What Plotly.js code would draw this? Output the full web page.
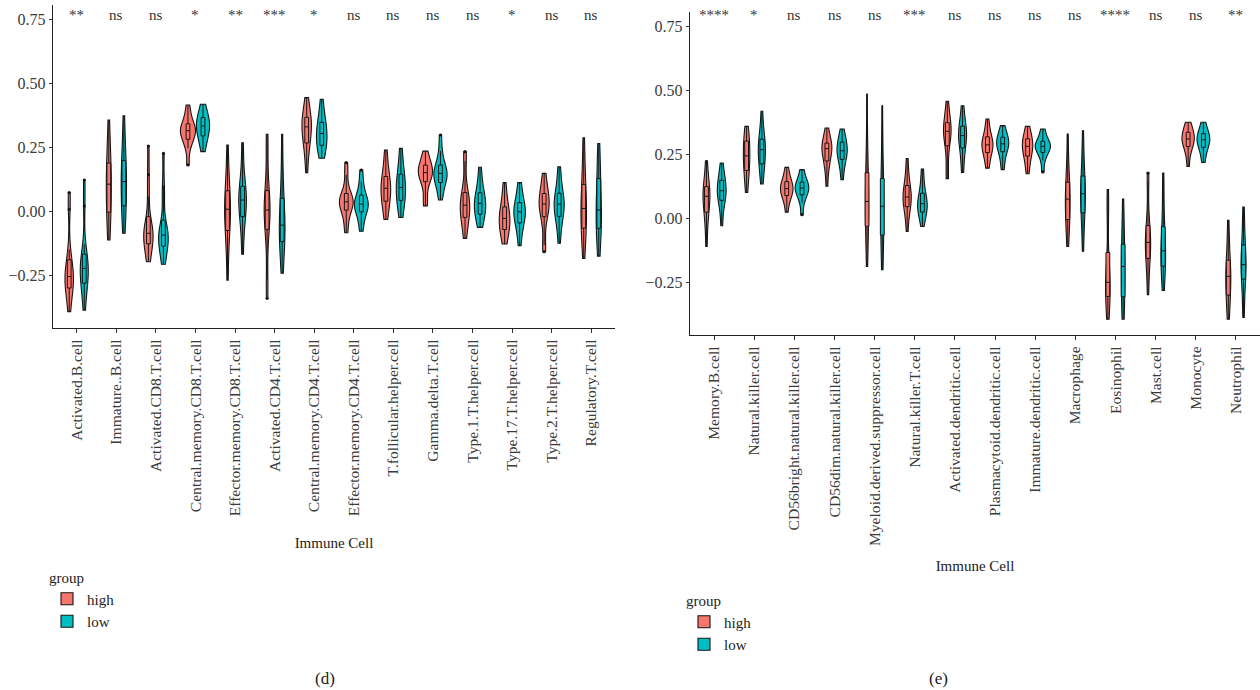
<!DOCTYPE html>
<html><head><meta charset="utf-8">
<script src="https://cdn.plot.ly/plotly-3.0.1.min.js"></script>
<style>html,body{margin:0;padding:0;background:#fff}#chart{width:1260px;height:690px}</style>
</head><body><div id="chart"></div>
<script>
const cellsD = ["Activated.B.cell","Immature..B.cell","Activated.CD8.T.cell","Central.memory.CD8.T.cell","Effector.memory.CD8.T.cell","Activated.CD4.T.cell","Central.memory.CD4.T.cell","Effector.memory.CD4.T.cell","T.follicular.helper.cell","Gamma.delta.T.cell","Type.1.T.helper.cell","Type.17.T.helper.cell","Type.2.T.helper.cell","Regulatory.T.cell"];
const cellsE = ["Memory.B.cell","Natural.killer.cell","CD56bright.natural.killer.cell","CD56dim.natural.killer.cell","Myeloid.derived.suppressor.cell","Natural.killer.T.cell","Activated.dendritic.cell","Plasmacytoid.dendritic.cell","Immature.dendritic.cell","Macrophage","Eosinophil","Mast.cell","Monocyte","Neutrophil"];
const sigD = ["**","ns","ns","*","**","***","*","ns","ns","ns","ns","*","ns","ns"];
const sigE = ["****","*","ns","ns","ns","***","ns","ns","ns","ns","****","ns","ns","**"];
const groups = ["high","low"];
const yTicks = [-0.25, 0, 0.25, 0.5, 0.75];

// panel (d) sample values, one list per cell type
const dHigh = [
 [-0.393,-0.345,-0.315,-0.296,-0.28,-0.265,-0.256,-0.24,-0.22,-0.204,-0.15,0.007,0.072],
 [-0.113,-0.06,-0.02,0.001,0.04,0.08,0.105,0.13,0.155,0.177,0.22,0.28,0.355],
 [-0.198,-0.165,-0.14,-0.124,-0.105,-0.095,-0.087,-0.075,-0.06,-0.048,0.056,0.142,0.254],
 [0.18,0.245,0.27,0.284,0.296,0.306,0.314,0.321,0.329,0.336,0.355,0.38,0.414],
 [-0.27,-0.17,-0.1,-0.068,-0.04,-0.015,0.007,0.025,0.048,0.069,0.11,0.17,0.258],
 [-0.341,-0.267,-0.12,-0.055,-0.03,-0.012,0.004,0.02,0.042,0.063,0.13,0.247,0.3],
 [0.15,0.22,0.25,0.271,0.295,0.315,0.329,0.338,0.35,0.362,0.38,0.41,0.443],
 [-0.085,-0.045,-0.01,0.008,0.018,0.028,0.036,0.044,0.053,0.063,0.085,0.141,0.189],
 [-0.033,0.0,0.025,0.043,0.062,0.078,0.089,0.1,0.115,0.128,0.155,0.195,0.238],
 [0.02,0.043,0.095,0.121,0.133,0.143,0.15,0.158,0.167,0.176,0.19,0.21,0.234],
 [-0.107,-0.065,-0.04,-0.02,-0.005,0.01,0.023,0.035,0.05,0.063,0.1,0.195,0.232],
 [-0.129,-0.105,-0.085,-0.068,-0.052,-0.04,-0.029,-0.018,-0.005,0.01,0.035,0.07,0.111],
 [-0.159,-0.133,-0.05,-0.013,0.002,0.015,0.027,0.038,0.05,0.063,0.085,0.115,0.147],
 [-0.185,-0.12,-0.085,-0.061,-0.035,-0.012,0.01,0.035,0.065,0.092,0.14,0.21,0.286]
];
const dLow = [
 [-0.387,-0.33,-0.3,-0.276,-0.255,-0.24,-0.224,-0.21,-0.195,-0.181,-0.13,0.02,0.121],
 [-0.087,-0.04,0.0,0.027,0.06,0.09,0.115,0.14,0.165,0.186,0.23,0.29,0.372],
 [-0.208,-0.175,-0.15,-0.133,-0.115,-0.103,-0.094,-0.085,-0.072,-0.061,0.04,0.1,0.225],
 [0.232,0.26,0.283,0.297,0.31,0.322,0.332,0.34,0.35,0.362,0.375,0.395,0.417],
 [-0.169,-0.09,-0.04,-0.016,0.008,0.027,0.043,0.058,0.074,0.089,0.12,0.18,0.267],
 [-0.243,-0.18,-0.14,-0.113,-0.09,-0.07,-0.055,-0.03,0.0,0.036,0.09,0.17,0.3],
 [0.206,0.228,0.248,0.26,0.27,0.285,0.303,0.315,0.33,0.342,0.36,0.395,0.437],
 [-0.079,-0.045,-0.015,0.001,0.012,0.02,0.027,0.035,0.046,0.056,0.08,0.115,0.16],
 [-0.025,0.005,0.028,0.046,0.065,0.08,0.092,0.105,0.12,0.137,0.165,0.2,0.245],
 [0.043,0.075,0.1,0.115,0.128,0.138,0.147,0.155,0.164,0.173,0.2,0.235,0.297],
 [-0.064,-0.04,-0.022,-0.009,0.006,0.019,0.03,0.041,0.053,0.065,0.09,0.125,0.171],
 [-0.135,-0.09,-0.06,-0.042,-0.028,-0.014,-0.003,0.006,0.016,0.027,0.05,0.08,0.111],
 [-0.126,-0.07,-0.035,-0.016,0.0,0.014,0.027,0.038,0.05,0.063,0.09,0.13,0.173],
 [-0.176,-0.12,-0.085,-0.061,-0.035,-0.015,0.004,0.035,0.075,0.115,0.16,0.21,0.264]
];
// panel (e)
const eHigh = [
 [-0.111,-0.04,0.005,0.029,0.05,0.07,0.085,0.095,0.106,0.117,0.14,0.175,0.224],
 [0.1,0.14,0.17,0.191,0.21,0.228,0.243,0.258,0.277,0.296,0.315,0.335,0.358],
 [0.023,0.06,0.078,0.091,0.1,0.108,0.115,0.122,0.13,0.139,0.152,0.172,0.198],
 [0.124,0.18,0.208,0.228,0.243,0.258,0.271,0.277,0.283,0.289,0.305,0.325,0.352],
 [-0.189,-0.12,-0.06,-0.023,0.01,0.04,0.065,0.095,0.13,0.163,0.22,0.3,0.484],
 [-0.052,0.0,0.03,0.049,0.062,0.073,0.082,0.093,0.107,0.121,0.145,0.18,0.232],
 [0.154,0.178,0.25,0.293,0.31,0.326,0.339,0.347,0.356,0.367,0.39,0.42,0.456],
 [0.195,0.22,0.243,0.26,0.27,0.279,0.286,0.294,0.303,0.313,0.33,0.355,0.387],
 [0.173,0.205,0.228,0.247,0.26,0.271,0.28,0.288,0.297,0.306,0.32,0.338,0.358],
 [-0.111,-0.06,-0.025,0.0,0.025,0.052,0.074,0.09,0.11,0.13,0.17,0.23,0.328],
 [-0.395,-0.36,-0.325,-0.3,-0.28,-0.265,-0.251,-0.235,-0.21,-0.185,0.016,0.055,0.111],
 [-0.3,-0.23,-0.18,-0.15,-0.125,-0.108,-0.095,-0.08,-0.063,-0.046,0.02,0.143,0.176],
 [0.202,0.245,0.268,0.283,0.293,0.301,0.309,0.316,0.324,0.332,0.345,0.36,0.374],
 [-0.395,-0.36,-0.325,-0.293,-0.265,-0.245,-0.228,-0.212,-0.195,-0.176,-0.13,-0.07,-0.009]
];
const eLow = [
 [-0.03,0.025,0.055,0.074,0.088,0.098,0.107,0.117,0.13,0.143,0.16,0.185,0.215],
 [0.133,0.17,0.195,0.217,0.235,0.252,0.267,0.278,0.29,0.302,0.325,0.36,0.417],
 [0.013,0.06,0.08,0.094,0.103,0.11,0.117,0.123,0.13,0.137,0.15,0.168,0.189],
 [0.15,0.19,0.215,0.234,0.245,0.255,0.263,0.272,0.283,0.293,0.308,0.325,0.348],
 [-0.202,-0.14,-0.09,-0.059,-0.02,0.015,0.046,0.075,0.105,0.139,0.2,0.28,0.439],
 [-0.033,0.0,0.015,0.026,0.038,0.048,0.056,0.066,0.078,0.091,0.115,0.15,0.191],
 [0.178,0.22,0.255,0.28,0.298,0.312,0.322,0.332,0.343,0.354,0.375,0.405,0.439],
 [0.189,0.22,0.245,0.264,0.274,0.283,0.29,0.297,0.305,0.313,0.325,0.342,0.361],
 [0.18,0.225,0.245,0.26,0.267,0.274,0.28,0.285,0.291,0.297,0.31,0.328,0.348],
 [-0.13,-0.06,-0.005,0.029,0.055,0.077,0.095,0.112,0.132,0.152,0.2,0.26,0.341],
 [-0.395,-0.36,-0.33,-0.3,-0.265,-0.225,-0.189,-0.165,-0.14,-0.117,-0.06,0.0,0.074],
 [-0.283,-0.24,-0.205,-0.182,-0.16,-0.142,-0.128,-0.11,-0.08,-0.052,0.02,0.1,0.176],
 [0.217,0.245,0.265,0.28,0.29,0.298,0.306,0.313,0.32,0.326,0.34,0.357,0.374],
 [-0.388,-0.33,-0.27,-0.228,-0.21,-0.195,-0.182,-0.165,-0.14,-0.117,-0.07,-0.015,0.043]
];

const colors = {high: "#F8766D", low: "#00BFC4"};
const FONT = "Liberation Serif, DejaVu Serif, serif";
const W = 1260, H = 690;

function flatten(cats, lists) {
  const x = [], y = [];
  lists.forEach((vals, i) => vals.forEach(v => { x.push(cats[i]); y.push(v); }));
  return {x, y};
}
function violin(cats, lists, name, xa, ya, legend, sg) {
  const f = flatten(cats, lists);
  const c = colors[name];
  return {
    type: "violin", x: f.x, y: f.y, name: name, xaxis: xa, yaxis: ya, legend: legend,
    alignmentgroup: sg, offsetgroup: name,
    fillcolor: c, line: {color: "#151515", width: 1.1}, opacity: 1,
    spanmode: "hard", scalemode: "count", scalegroup: sg,
    points: "outliers", pointpos: 0, jitter: 0,
    marker: {color: "#151515", size: 3.2, line: {width: 0}},
    box: {visible: true, width: 0.25, fillcolor: c, line: {color: "#151515", width: 1}},
    meanline: {visible: false}, hoverinfo: "skip"
  };
}

const traces = [
  violin(cellsD, dHigh, "high", "x", "y", "legend", "d"),
  violin(cellsD, dLow, "low", "x", "y", "legend", "d"),
  violin(cellsE, eHigh, "high", "x2", "y2", "legend2", "e"),
  violin(cellsE, eLow, "low", "x2", "y2", "legend2", "e")
];

function xax(cats, d0, d1, anchor, standoff) {
  return {
    domain: [d0 / W, d1 / W], anchor: anchor, type: "category",
    categoryorder: "array", categoryarray: cats, range: [-0.6, 13.6],
    tickangle: -90, showline: true, linecolor: "#222", linewidth: 1.2,
    ticks: "outside", ticklen: 4, tickcolor: "#333", tickwidth: 1,
    tickfont: {family: FONT, size: 15.6, color: "#3a3a3a"},
    title: {text: "Immune Cell", font: {family: FONT, size: 15, color: "#222"}, standoff: standoff},
    showgrid: false, zeroline: false, fixedrange: true
  };
}
function yax(top, bottom, anchor) {
  return {
    domain: [1 - bottom / H, 1 - top / H], anchor: anchor,
    range: [-0.457, 0.805], tickvals: yTicks, tickformat: ".2f",
    showline: true, linecolor: "#222", linewidth: 1.2,
    ticks: "outside", ticklen: 3, tickcolor: "#333",
    tickfont: {family: FONT, size: 16, color: "#3a3a3a"},
    showgrid: false, zeroline: false, fixedrange: true
  };
}

const annotations = [];
sigD.forEach((s, i) => annotations.push({x: cellsD[i], xref: "x", y: 0.968, yref: "y domain",
  text: s, showarrow: false, font: {family: FONT, size: 15, color: "#333"}, yanchor: "middle"}));
sigE.forEach((s, i) => annotations.push({x: cellsE[i], xref: "x2", y: 0.99, yref: "y2 domain",
  text: s, showarrow: false, font: {family: FONT, size: 15, color: "#333"}, yanchor: "middle"}));
annotations.push({x: 313 / W, y: 1 - 678 / H, xref: "paper", yref: "paper", text: "(d)", showarrow: false,
  yanchor: "middle", font: {family: FONT, size: 17, color: "#222"}});
annotations.push({x: 950 / W, y: 1 - 678 / H, xref: "paper", yref: "paper", text: "(e)", showarrow: false,
  yanchor: "middle", font: {family: FONT, size: 17, color: "#222"}});

const legendBase = (x, y) => ({
  x: x / W, y: 1 - y / H, xanchor: "left", yanchor: "top",
  title: {text: "group", font: {family: FONT, size: 15, color: "#222"}},
  font: {family: FONT, size: 15, color: "#222"}, bgcolor: "rgba(0,0,0,0)",
  itemwidth: 30, tracegroupgap: 0
});

const layout = {
  width: W, height: H, margin: {l: 0, r: 0, t: 0, b: 0},
  paper_bgcolor: "#fff", plot_bgcolor: "#fff",
  violinmode: "group", violingap: 0.24, violingroupgap: 0,
  xaxis: xax(cellsD, 53, 615, "y", 22),
  yaxis: yax(5, 328, "x"),
  xaxis2: xax(cellsE, 690, 1260, "y2", 15),
  yaxis2: yax(12, 335, "x2"),
  legend: legendBase(47, 563),
  legend2: legendBase(684, 586),
  annotations: annotations,
  font: {family: FONT}
};

Plotly.newPlot("chart", traces, layout, {displayModeBar: false, staticPlot: true});
</script></body></html>
